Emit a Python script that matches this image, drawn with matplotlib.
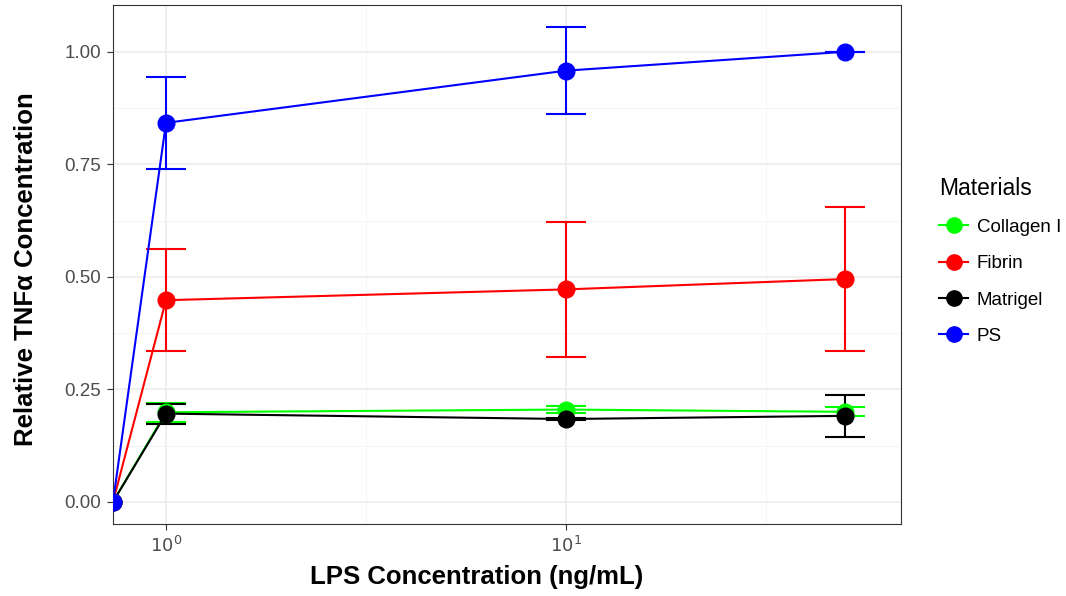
import numpy as np
import matplotlib
matplotlib.use("Agg")
import matplotlib.pyplot as plt
from matplotlib.lines import Line2D
from matplotlib.ticker import FixedLocator, NullFormatter

plt.rcParams['font.family'] = ['Liberation Sans', 'DejaVu Sans']

# LPS concentrations (0 sits at the left panel edge, like ggplot's -Inf)
lps = [0, 1, 10, 50]
materials = ["Collagen I", "Fibrin", "Matrigel", "PS"]
colors = {"Collagen I": "#00ff00", "Fibrin": "#ff0000", "Matrigel": "#000000", "PS": "#0000ff"}

collagen_mean = [0.0, 0.199, 0.205, 0.200]
collagen_err = [0.0, 0.021, 0.007, 0.010]
fibrin_mean = [0.0, 0.448, 0.472, 0.495]
fibrin_err = [0.0, 0.113, 0.150, 0.160]
matrigel_mean = [0.0, 0.196, 0.184, 0.191]
matrigel_err = [0.0, 0.022, 0.003, 0.047]
ps_mean = [0.0, 0.842, 0.958, 1.000]
ps_err = [0.0, 0.102, 0.096, 0.0]

means = {"Collagen I": collagen_mean, "Fibrin": fibrin_mean,
         "Matrigel": matrigel_mean, "PS": ps_mean}
errs = {"Collagen I": collagen_err, "Fibrin": fibrin_err,
        "Matrigel": matrigel_err, "PS": ps_err}

xmin, xmax = 10 ** -0.1325, 10 ** 1.8375
x_plot = [xmin if v == 0 else v for v in lps]

fig = plt.figure(figsize=(10.66, 5.96), dpi=100)
ax = fig.add_axes([0.106, 0.121, 0.739, 0.8707])
ax.set_xscale("log")

for m in materials:
    c = colors[m]
    ax.plot(x_plot, means[m], color=c, lw=1.5, zorder=3)
    # error bars only where measured (not at the 0 point)
    ax.errorbar(x_plot[1:], means[m][1:], yerr=errs[m][1:], fmt="none",
                ecolor=c, elinewidth=1.5, capsize=14.4, capthick=1.5, zorder=3)
    ax.plot(x_plot, means[m], "o", color=c, ms=12, zorder=4)

ax.set_xlim(xmin, xmax)
ax.set_ylim(-0.049, 1.104)

ax.xaxis.set_major_locator(FixedLocator([1, 10]))
ax.xaxis.set_minor_locator(FixedLocator([10 ** 0.5, 10 ** 1.5]))
ax.xaxis.set_minor_formatter(NullFormatter())
ax.set_xticklabels([r"$10^0$", r"$10^1$"])
ax.set_yticks([0, 0.25, 0.5, 0.75, 1.0])
ax.set_yticklabels(["0.00", "0.25", "0.50", "0.75", "1.00"])
ax.set_yticks([0.125, 0.375, 0.625, 0.875], minor=True)

ax.grid(which="major", color="#ebebeb", lw=1.1, zorder=0)
ax.grid(which="minor", color="#f2f2f2", lw=0.6, zorder=0)
ax.set_axisbelow(True)
ax.tick_params(which="major", length=4.5, width=0.8, color="#333333",
               labelsize=13.5, labelcolor="#4d4d4d", pad=4)
ax.tick_params(axis="x", which="major", labelsize=13)
ax.tick_params(which="minor", length=0)
for s in ax.spines.values():
    s.set_color("#333333")
    s.set_linewidth(0.8)

ax.set_xlabel("LPS Concentration (ng/mL)", fontsize=18.5, fontweight="bold")
ax.set_ylabel("Relative TNFα Concentration", fontsize=18.5, fontweight="bold")
ax.xaxis.set_label_coords(0.461, -0.08)
ax.yaxis.set_label_coords(-0.095, 0.49)

handles = [Line2D([0], [0], color=colors[m], lw=1.5, marker="o", ms=11) for m in materials]
leg = fig.legend(handles, materials, title="Materials", loc="upper left",
                 bbox_to_anchor=(0.874, 0.716), frameon=False, fontsize=13.5,
                 title_fontsize=16.5, handlelength=1.55, labelspacing=1.02,
                 handletextpad=0.45, borderaxespad=0)
leg._legend_box.align = "left"

fig.savefig("out.png", dpi=100, facecolor="white")
